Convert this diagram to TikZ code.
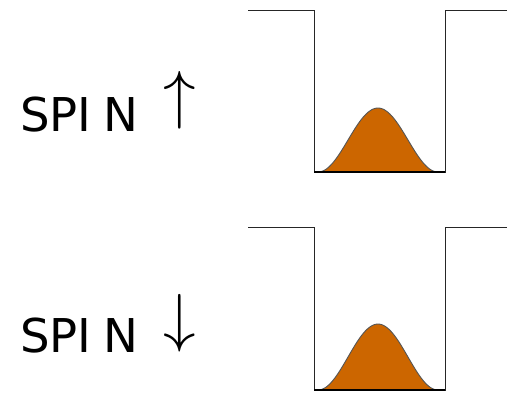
\documentclass[tikz,border=0pt]{standalone}
\usepackage{graphicx}
\usepackage{fontspec}
\setmainfont{DejaVu Sans}
\definecolor{wavefill}{HTML}{CC6600}
\definecolor{waveline}{HTML}{555555}
\begin{document}
\begin{tikzpicture}[x=1pt,y=-1pt,
  well/.style={draw=black!85,line width=1pt},
  wave/.style={fill=wavefill,draw=waveline,line width=0.9pt},
  spinlabel/.style={anchor=base west,inner sep=0pt,font=\fontsize{46.6}{50}\selectfont},
  spinarrow/.style={inner sep=0pt,font=\fontsize{10}{10}\selectfont}]
\useasboundingbox (0,0) rectangle (507,392);
% top well
\draw[well] (248,10) -- (314,10) -- (314,172) -- (445,172) -- (445,10) -- (507,10);
\filldraw[wave] plot[domain=0:180,samples=73,smooth] ({318+0.66667*\x},{172-64*sin(\x)*sin(\x)}) -- cycle;
\draw[black,line width=1.2pt] (314,172) -- (445,172);
% bottom well
\draw[well] (248,227) -- (314,227) -- (314,390) -- (445,390) -- (445,227) -- (507,227);
\filldraw[wave] plot[domain=0:180,samples=73,smooth] ({318+0.66667*\x},{390-66*sin(\x)*sin(\x)}) -- cycle;
\draw[black,line width=1.2pt] (314,390) -- (445,390);
% labels
\node[spinlabel] (up) at (20,131) {SPI\kern12pt N};
\node[spinarrow] (uparr) at (180,100.5) {\scalebox{6.5}{$\uparrow$}};
\node[spinlabel] (down) at (20,352) {SPI\kern12pt N};
\node[spinarrow] (downarr) at (180,323.5) {\scalebox{6.5}{$\downarrow$}};
\end{tikzpicture}
\end{document}
